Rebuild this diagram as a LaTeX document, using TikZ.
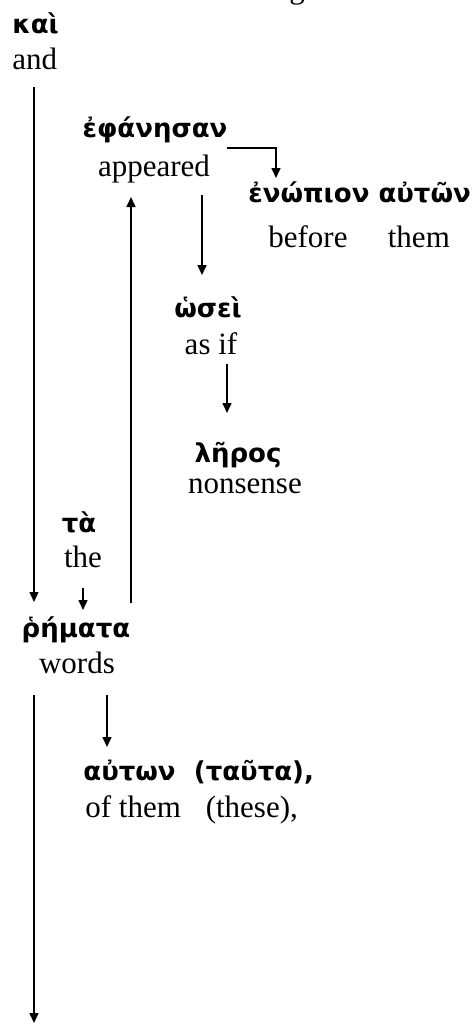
\documentclass[tikz,border=0pt]{standalone}
\usepackage{fontspec}
\setmainfont{Liberation Serif}
\newfontfamily\grkfont{DejaVu Sans}[Script=Greek]
\usetikzlibrary{arrows.meta}
\tikzset{
  grk/.style={font=\grkfont\bfseries\fontsize{13}{15}\selectfont, inner sep=0pt, anchor=base},
  eng/.style={font=\fontsize{15.5}{18}\selectfont, inner sep=0pt, anchor=base},
  link/.style={draw, line width=0.75pt, -{Triangle[length=5pt,width=4.5pt]}},
}
\begin{document}
\begin{tikzpicture}[x=0.5pt, y=-0.5pt]
  \useasboundingbox (0,0) rectangle (472,1025);
  % words, placed at their baselines
  \node[eng] (head) at (297,-2) {g};
  \node[grk, anchor=base west] (kai) at (12,33) {καὶ};
  \node[eng, anchor=base west] (and) at (12,69) {and};
  \node[grk] (ephanesan) at (155,137) {ἐφάνησαν};
  \node[eng] (appeared) at (154,176) {appeared};
  \node[grk, anchor=base west] (enopion) at (248,202) {ἐνώπιον αὐτῶν};
  \node[eng, anchor=base west] (before) at (268,247) {before\hspace{1.3em}them};
  \node[grk] (hosei) at (208,317) {ὡσεὶ};
  \node[eng] (asif) at (211,354) {as if};
  \node[grk] (leros) at (238,462) {λῆρος};
  \node[eng] (nonsense) at (245,493) {nonsense};
  \node[grk] (ta) at (79,532) {τὰ};
  \node[eng] (the) at (83,567) {the};
  \node[grk] (rhemata) at (76,637) {ῥήματα};
  \node[eng] (words) at (77,673) {words};
  \node[grk, anchor=base west] (auton) at (83,780) {αὐτων\hspace{0.7em}(ταῦτα),};
  \node[eng, anchor=base west] (ofthem) at (85,817) {of them\hspace{0.8em}(these),};
  % connector ends
  \coordinate (kaiOut) at (34,87);
  \coordinate (rhemIn) at (34,602);
  \coordinate (ephOut) at (227,148);
  \coordinate (enoIn) at (276,178);
  \coordinate (appOut) at (202,195);
  \coordinate (hosIn) at (202,275);
  \coordinate (rhemUp) at (131,603);
  \coordinate (appIn) at (131,197);
  \coordinate (hosOut) at (227,364);
  \coordinate (lerIn) at (227,413);
  \coordinate (taOut) at (83,588);
  \coordinate (taIn) at (83,610);
  \coordinate (rhemOut) at (34,695);
  \coordinate (rhemEnd) at (34,1023);
  \coordinate (wordsOut) at (107,695);
  \coordinate (autIn) at (107,747);
  % connectors
  \draw[link] (kaiOut) -- (rhemIn);
  \draw[link] (ephOut) -| (enoIn);
  \draw[link] (appOut) -- (hosIn);
  \draw[link] (rhemUp) -- (appIn);
  \draw[link] (hosOut) -- (lerIn);
  \draw[link] (taOut) -- (taIn);
  \draw[link] (rhemOut) -- (rhemEnd);
  \draw[link] (wordsOut) -- (autIn);
\end{tikzpicture}
\end{document}
